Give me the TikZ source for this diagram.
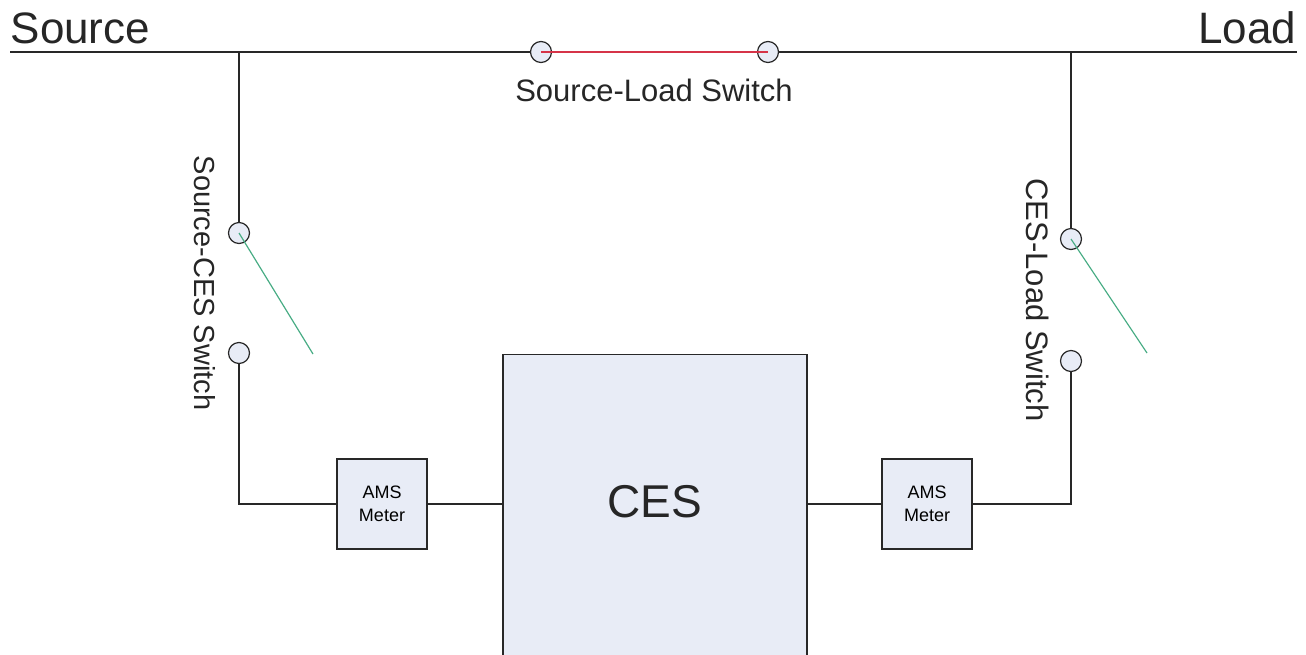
\documentclass[tikz,border=0pt]{standalone}
\usepackage{fontspec}
\setmainfont{Liberation Sans}
\definecolor{boxfill}{RGB}{232,236,246}
\definecolor{wirered}{RGB}{214,52,72}
\definecolor{bladegreen}{RGB}{72,172,132}
\definecolor{wire}{RGB}{40,40,40}
\begin{document}
\begin{tikzpicture}[x=1pt,y=-1pt,line width=1.4pt,draw=wire]

                \tikzset{contact/.style = {shape=circle,draw,fill=boxfill,minimum size=21pt,inner sep=0pt,line width=1.2pt}}
                \tikzset{meter/.style = {shape=rectangle,draw,fill=boxfill,minimum width=90pt,minimum height=90pt,align=center,font=\fontsize{18}{23}\selectfont}}
                \tikzset{label/.style = {inner sep=0pt,text=black!85}}
                \tikzset{blade/.style = {line width=1.2pt}}
                \useasboundingbox (0,0) rectangle (1306,654);
                \clip (0,0) rectangle (1306,654);

                \node[label,anchor=base west,font=\fontsize{44}{54}\selectfont] (src) at (10,43) {Source};
                \node[label,anchor=base east,font=\fontsize{44}{54}\selectfont] (load) at (1297,43) {Load};
                \coordinate (busL) at (10,52);
                \coordinate (busR) at (1297,52);
                \coordinate (tapL) at (239,52);
                \coordinate (tapR) at (1071,52);

                \node[contact] (sl1) at (541,52) {};
                \node[contact] (sl2) at (768,52) {};
                \node[label,anchor=base,font=\fontsize{31}{37}\selectfont] (sllab) at (654,101) {Source-Load Switch};

                \node[contact] (sc1) at (239,233) {};
                \node[contact] (sc2) at (239,353) {};
                \coordinate (sctip) at (313,354);
                \node[label,rotate=-90,font=\fontsize{29}{35}\selectfont] (sclab) at (205,283) {Source-CES Switch};

                \node[contact] (cl1) at (1071,239) {};
                \node[contact] (cl2) at (1071,361) {};
                \coordinate (cltip) at (1147,353);
                \node[label,rotate=-90,font=\fontsize{31}{37}\selectfont] (cllab) at (1038,300) {CES-Load Switch};

                \node[meter] (m1) at (382,504) {AMS\\Meter};
                \node[meter] (m2) at (927,504) {AMS\\Meter};
                \node[shape=rectangle,draw,fill=boxfill,minimum width=304pt,minimum height=400pt,anchor=north] (ces) at (655,354) {};
                \node[label,font=\fontsize{46}{54}\selectfont] (ceslab) at (655,502) {CES};

                \draw (busL) -- (sl1);
                \draw (sl2) -- (busR);
                \draw[wirered,blade] (sl1.center) -- (sl2.center);
                \draw (tapL) -- (sc1);
                \draw[bladegreen,blade] (sc1.center) -- (sctip);
                \draw (sc2) |- (m1);
                \draw (m1) -- (m1 -| ces.west);
                \draw (tapR) -- (cl1);
                \draw[bladegreen,blade] (cl1.center) -- (cltip);
                \draw (cl2) |- (m2);
                \draw (m2) -- (m2 -| ces.east);

            \end{tikzpicture}
\end{document}
